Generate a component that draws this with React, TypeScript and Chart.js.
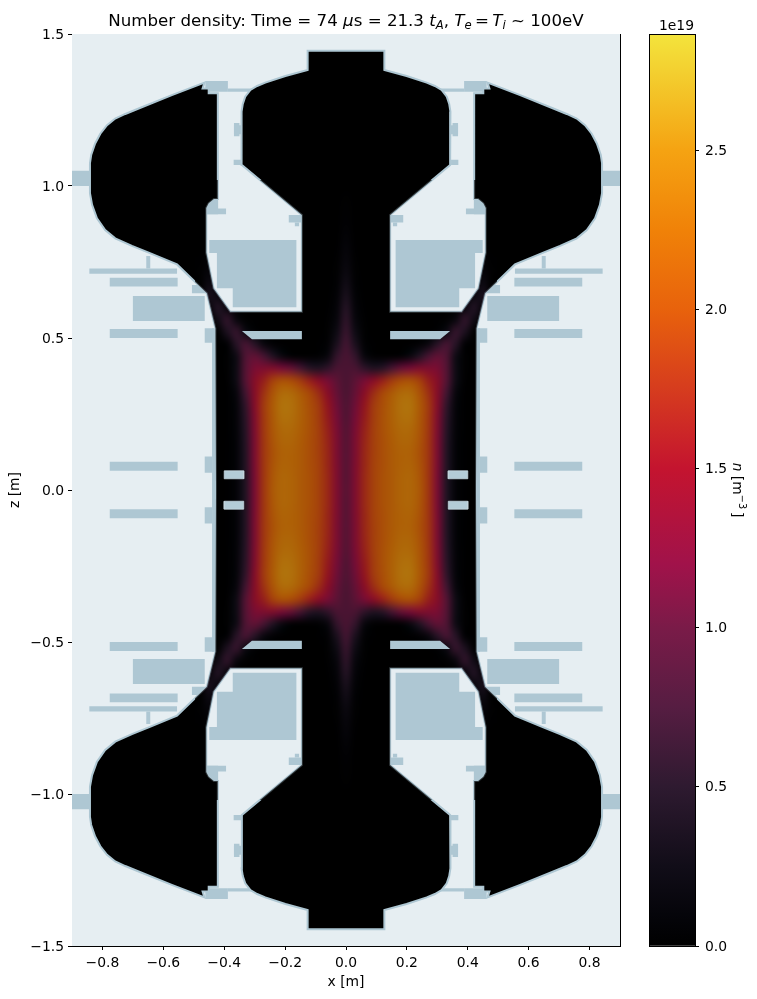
import React, { useEffect, useRef } from "react";
import { Chart, registerables } from "chart.js";

Chart.register(...registerables);

const FONT = '"DejaVu Sans"';
const xTicks = [-0.8, -0.6, -0.4, -0.2, 0, 0.2, 0.4, 0.6, 0.8];
const zTicks = [-1.5, -1.0, -0.5, 0, 0.5, 1.0, 1.5];
const cbTicks = [0, 0.5, 1.0, 1.5, 2.0, 2.5];
const cbScaleMax = 2.865;

// Colour scale: [value in 1e19 m^-3, colour]
const colourStops: [number, string][] = [
  [0, "#000000"], [0.1, "#05050a"], [0.25, "#110d18"], [0.5, "#2e1a30"], [0.75, "#561d42"],
  [1.0, "#7a1b48"], [1.2, "#a1124a"], [1.5, "#c4142f"], [1.75, "#d63c1e"], [2.0, "#e8620c"],
  [2.25, "#f08208"], [2.5, "#f5a312"], [2.75, "#f3d030"], [2.865, "#f3e43c"],
];

// Density quadrant, 1e19 m^-3: one row per z, one value per x
const densityX = [0, .03, .06, .09, .12, .15, .18, .21, .24, .27, .30, .33, .36, .39, .42, .45, .48];
const densityZ = [0, .04, .08, .12, .16, .20, .24, .28, .32, .36, .40, .44, .48, .52, .56, .60, .64, .68, .72, .76, .80, .84, .88, .92, .96, 1.0];
const densityRows = [
  [1.0, 1.3, 1.72, 1.95, 2.1, 2.2, 2.3, 2.33, 2.2, 1.85, 1.25, .50, .10, .01, 0, 0, 0],
  [.98, 1.3, 1.72, 1.95, 2.1, 2.2, 2.3, 2.33, 2.18, 1.85, 1.25, .50, .10, .01, 0, 0, 0],
  [.98, 1.3, 1.7, 1.95, 2.08, 2.2, 2.28, 2.3, 2.15, 1.85, 1.27, .52, .10, .01, 0, 0, 0],
  [.98, 1.28, 1.7, 1.93, 2.08, 2.2, 2.28, 2.28, 2.12, 1.85, 1.28, .52, .10, .01, 0, 0, 0],
  [.97, 1.28, 1.68, 1.93, 2.08, 2.22, 2.32, 2.32, 2.15, 1.85, 1.28, .53, .10, .01, 0, 0, 0],
  [.96, 1.25, 1.65, 1.92, 2.1, 2.25, 2.36, 2.36, 2.18, 1.86, 1.3, .55, .11, .01, 0, 0, 0],
  [.92, 1.2, 1.6, 1.9, 2.1, 2.27, 2.42, 2.43, 2.2, 1.87, 1.32, .58, .12, .01, 0, 0, 0],
  [.90, 1.15, 1.55, 1.88, 2.08, 2.27, 2.44, 2.46, 2.22, 1.88, 1.38, .64, .13, .01, 0, 0, 0],
  [.87, 1.08, 1.42, 1.75, 2.0, 2.2, 2.36, 2.38, 2.15, 1.8, 1.4, .78, .17, .01, 0, 0, 0],
  [.86, 1.02, 1.22, 1.42, 1.65, 1.88, 2.05, 2.1, 1.95, 1.65, 1.4, .95, .28, .02, 0, 0, 0],
  [.86, .85, .62, .48, .55, .82, 1.08, 1.2, 1.32, 1.3, 1.25, .95, .28, .03, 0, 0, 0],
  [.85, .65, .18, .04, .02, .02, .05, .20, .48, .82, 1.05, .90, .28, .03, 0, 0, 0],
  [.78, .42, .06, .01, 0, 0, 0, .01, .05, .20, .55, .82, .55, .05, 0, 0, 0],
  [.68, .28, .03, 0, 0, 0, 0, 0, 0, .01, .06, .25, .66, .45, .03, 0, 0],
  [.60, .18, .02, 0, 0, 0, 0, 0, 0, 0, .01, .03, .20, .62, .30, 0, 0],
  [.52, .12, .01, 0, 0, 0, 0, 0, 0, 0, 0, 0, .02, .18, .50, .12, 0],
  [.40, .08, 0, 0, 0, 0, 0, 0, 0, 0, 0, 0, 0, .03, .20, .38, 0],
  [.30, .05, 0, 0, 0, 0, 0, 0, 0, 0, 0, 0, 0, 0, .05, .25, 0],
  [.22, .03, 0, 0, 0, 0, 0, 0, 0, 0, 0, 0, 0, 0, .01, .12, .02],
  [.16, .02, 0, 0, 0, 0, 0, 0, 0, 0, 0, 0, 0, 0, 0, .06, .01],
  [.12, .01, 0, 0, 0, 0, 0, 0, 0, 0, 0, 0, 0, 0, 0, 0, 0],
  [.08, 0, 0, 0, 0, 0, 0, 0, 0, 0, 0, 0, 0, 0, 0, 0, 0],
  [.05, 0, 0, 0, 0, 0, 0, 0, 0, 0, 0, 0, 0, 0, 0, 0, 0],
  [.03, 0, 0, 0, 0, 0, 0, 0, 0, 0, 0, 0, 0, 0, 0, 0, 0],
  [.02, 0, 0, 0, 0, 0, 0, 0, 0, 0, 0, 0, 0, 0, 0, 0, 0],
  [0, 0, 0, 0, 0, 0, 0, 0, 0, 0, 0, 0, 0, 0, 0, 0, 0],
];

type P = [number, number];

// Plasma boundary, upper right quarter, (x, z) in metres
const vesselQuarter: P[] = [
  [0, 1.445], [.126, 1.445], [.126, 1.382], [.199, 1.362], [.265, 1.340], [.292, 1.329], [.314, 1.316],
  [.331, 1.294], [.339, 1.270], [.343, 1.245], [.342, 1.069], [.145, .905], [.145, .586], [.380, .586],
  [.435, .663], [.459, .781], [.459, .928], [.451, .943], [.434, .957], [.421, .957], [.421, 1.305],
  [.451, 1.305], [.451, 1.321], [.471, 1.321], [.465, 1.340], [.572, 1.299], [.681, 1.255], [.725, 1.237],
  [.758, 1.222], [.785, 1.2], [.807, 1.172], [.824, 1.14], [.837, 1.102], [.841, 1.075], [.841, .976],
  [.834, .938], [.818, .894], [.791, .855], [.758, .828], [.703, .803], [.648, .781], [.555, .742],
  [.457, .647], [.429, .532], [.427, 0],
];

// Structures behind the plasma, upper right quarter: rectangles [x0, x1, z0, z1]
const structureRects: number[][] = [
  [.309, .388, 1.310, 1.321], [.388, .462, 1.310, 1.345], [.350, .368, 1.164, 1.207], [.342, .368, 1.17, 1.20],
  [.345, .369, 1.069, 1.086], [.842, .9, 1.0, 1.05], [.394, .46, .907, .926], [.42, .46, .907, .957],
  [.145, .188, .88, .905], [.154, .168, .868, .88], [.643, .656, .729, .770], [.555, .843, .711, .729],
  [.553, .776, .669, .698], [.464, .70, .556, .638], [.553, .776, .5, .53], [.434, .464, .484, .532],
  [.427, .44, 0, .532], [.44, .464, .057, .11], [.553, .776, .063, .093],
];
const structurePolys: P[][] = [
  [[.163, .822], [.449, .822], [.449, .780], [.424, .780], [.424, .664], [.372, .664], [.372, .601], [.163, .601]],
  [[.506, .674], [.506, .647], [.457, .647], [.483, .674]],
];
// Structures in front of the plasma
const plateQuarter: P[] = [[.145, .523], [.342, .523], [.309, .496], [.145, .496]];
const limiterRect = [.336, .40, .037, .063];

const PANEL = "#e6eef2";
const STEEL = "#aec7d3";

const rectPoly = ([x0, x1, z0, z1]: number[]): P[] => [[x0, z0], [x1, z0], [x1, z1], [x0, z1]];
const mirrored = (poly: P[]): P[][] => [
  poly,
  poly.map(([x, z]) => [-x, z] as P),
  poly.map(([x, z]) => [x, -z] as P),
  poly.map(([x, z]) => [-x, -z] as P),
];
const toPoints = (poly: P[]) => [...poly, poly[0]].map(([x, y]) => ({ x, y }));

const polyDataset = (poly: P[], color: string, order: number, extra: object = {}) => ({
  data: toPoints(poly), showLine: true, fill: "shape", backgroundColor: color, borderColor: color,
  borderWidth: 0, pointRadius: 0, tension: 0, order, ...extra,
});

function buildVessel(): P[] {
  const right = [...vesselQuarter, ...vesselQuarter.slice(0, -1).reverse().map(([x, z]) => [x, -z] as P)];
  const left = right.slice(0, -1).reverse().map(([x, z]) => [-x, z] as P);
  return [...right, ...left];
}

const hexRgb = (h: string) => [1, 3, 5].map((i) => parseInt(h.slice(i, i + 2), 16));
function colourOf(v: number): number[] {
  for (let i = 1; i < colourStops.length; i++) {
    if (v <= colourStops[i][0]) {
      const [a, ca] = colourStops[i - 1];
      const [b, cb] = colourStops[i];
      const t = (v - a) / (b - a);
      const ra = hexRgb(ca), rb = hexRgb(cb);
      return ra.map((c, k) => c + (rb[k] - c) * t);
    }
  }
  return hexRgb(colourStops[colourStops.length - 1][1]);
}

const fmt = (v: number) => (v < 0 ? "\u2212" : "") + Math.abs(v).toFixed(1);

type Seg = { t: string; it?: boolean; sub?: boolean; sup?: boolean };
const titleSegs: Seg[] = [
  { t: "Number density: Time = 74 " }, { t: "\u03bc", it: true }, { t: "s = 21.3 " }, { t: "t", it: true },
  { t: "A", it: true, sub: true }, { t: ", " }, { t: "T", it: true }, { t: "e", it: true, sub: true },
  { t: "\u2009=\u2009" }, { t: "T", it: true }, { t: "i", it: true, sub: true }, { t: " ~ 100eV" },
];
const cbLabelSegs: Seg[] = [{ t: "n", it: true }, { t: " [m" }, { t: "\u22123", sup: true }, { t: "\u2009]" }];

function drawSegs(ctx: CanvasRenderingContext2D, segs: Seg[], size: number, cx: number, baseY: number) {
  const fontOf = (s: Seg) => `${s.it ? "italic " : ""}${s.sub || s.sup ? size * 0.7 : size}px ${FONT}`;
  let w = 0;
  segs.forEach((s) => { ctx.font = fontOf(s); w += ctx.measureText(s.t).width; });
  let x = cx - w / 2;
  ctx.fillStyle = "#000";
  ctx.textAlign = "left";
  ctx.textBaseline = "alphabetic";
  segs.forEach((s) => {
    ctx.font = fontOf(s);
    const dy = s.sub ? size * 0.16 : s.sup ? -size * 0.42 : 0;
    ctx.fillText(s.t, x, baseY + dy);
    x += ctx.measureText(s.t).width;
  });
}

const densityPlugin = {
  id: "densityImage",
  afterDatasetDraw(chart: any, args: any) {
    const ds = chart.data.datasets[args.index];
    if (ds.label !== "density") return;
    const { x: sx, y: sy } = chart.scales;
    const ctx = chart.ctx as CanvasRenderingContext2D;
    const nx = densityX.length, nz = densityZ.length;
    const off = document.createElement("canvas");
    off.width = nx * 2 - 1;
    off.height = nz * 2 - 1;
    const oc = off.getContext("2d")!;
    const img = oc.createImageData(off.width, off.height);
    ds.data.forEach((p: any) => {
      const col = nx - 1 + Math.round((p.x / densityX[nx - 1]) * (nx - 1));
      const row = nz - 1 - Math.round((p.y / densityZ[nz - 1]) * (nz - 1));
      const c = colourOf(p.v);
      const i = (row * off.width + col) * 4;
      img.data[i] = c[0]; img.data[i + 1] = c[1]; img.data[i + 2] = c[2]; img.data[i + 3] = 255;
    });
    oc.putImageData(img, 0, 0);
    const dx = densityX[1] / 2, dz = densityZ[1] / 2;
    const L = sx.getPixelForValue(-densityX[nx - 1] - dx), R = sx.getPixelForValue(densityX[nx - 1] + dx);
    const T = sy.getPixelForValue(densityZ[nz - 1] + dz), B = sy.getPixelForValue(-densityZ[nz - 1] - dz);
    ctx.save();
    ctx.beginPath();
    buildVessel().forEach(([x, z], i) => {
      const a = sx.getPixelForValue(x), b = sy.getPixelForValue(z);
      i ? ctx.lineTo(a, b) : ctx.moveTo(a, b);
    });
    ctx.closePath();
    ctx.clip();
    ctx.imageSmoothingEnabled = true;
    ctx.imageSmoothingQuality = "high";
    ctx.globalAlpha = 0.72;
    ctx.drawImage(off, L, T, R - L, B - T);
    ctx.restore();
  },
  afterDraw(chart: any) {
    const ctx = chart.ctx as CanvasRenderingContext2D;
    const a = chart.chartArea;
    ctx.save();
    ctx.strokeStyle = "#000";
    ctx.lineWidth = 1;
    ctx.beginPath();
    ctx.moveTo(Math.round(a.right) + 0.5, a.top);
    ctx.lineTo(Math.round(a.right) + 0.5, a.bottom);
    ctx.stroke();
    drawSegs(ctx, titleSegs, 16.67, (a.left + a.right) / 2, 26);
    ctx.restore();
  },
};

const colourbarPlugin = {
  id: "colourbarFrame",
  afterDraw(chart: any) {
    const ctx = chart.ctx as CanvasRenderingContext2D;
    const a = chart.chartArea;
    ctx.save();
    ctx.strokeStyle = "#000";
    ctx.lineWidth = 1;
    ctx.strokeRect(a.left + 0.5, a.top + 0.5, a.right - a.left, a.bottom - a.top);
    ctx.font = `13.9px ${FONT}`;
    ctx.fillStyle = "#000";
    ctx.textAlign = "right";
    ctx.textBaseline = "alphabetic";
    ctx.fillText("1e19", a.right - 1, 30);
    ctx.translate(733, (a.top + a.bottom) / 2);
    ctx.rotate(Math.PI / 2);
    drawSegs(ctx, cbLabelSegs, 13.9, 0, 0);
    ctx.restore();
  },
};

const axisBase = {
  grid: { drawOnChartArea: false, tickLength: 4, tickColor: "#000", tickWidth: 1 },
};
const tickFont = { family: FONT, size: 13.9 };

export default function App() {
  const mainRef = useRef<HTMLCanvasElement>(null);
  const barRef = useRef<HTMLCanvasElement>(null);

  useEffect(() => {
    const datasets: any[] = [];
    datasets.push(polyDataset(rectPoly([-0.9, 0.9, -1.5, 1.5]), PANEL, 5));
    structureRects.forEach((r) => mirrored(rectPoly(r)).forEach((p) => datasets.push(polyDataset(p, STEEL, 4))));
    structurePolys.forEach((s) => mirrored(s).forEach((p) => datasets.push(polyDataset(p, STEEL, 4))));
    datasets.push(polyDataset(buildVessel(), "#000000", 3, { borderColor: STEEL, borderWidth: 2, label: "vessel" }));
    const cells: { x: number; y: number; v: number }[] = [];
    densityZ.forEach((z, r) => densityX.forEach((x, c) => {
      const v = densityRows[r][c];
      [x, -x].forEach((xx) => [z, -z].forEach((zz) => cells.push({ x: xx, y: zz, v })));
    }));
    datasets.push({ label: "density", data: cells, pointRadius: 0, showLine: false, order: 2 });
    mirrored(plateQuarter).forEach((p) => datasets.push(polyDataset(p, STEEL, 1)));
    mirrored(rectPoly(limiterRect)).forEach((p) =>
      datasets.push(polyDataset(p, "#b3ccd7", 1, { borderColor: "#c5d7df", borderWidth: 0.8 })));

    const main = new Chart(mainRef.current!, {
      type: "scatter",
      data: { datasets },
      plugins: [densityPlugin],
      options: {
        responsive: false, animation: false, events: [],
        layout: { padding: { top: 34, right: 137, left: 0, bottom: 0 } },
        plugins: { legend: { display: false }, tooltip: { enabled: false } },
        scales: {
          x: {
            type: "linear", min: -0.9, max: 0.9, ...axisBase,
            border: { display: true, color: "#000", width: 1 },
            afterBuildTicks: (s: any) => { s.ticks = xTicks.map((value) => ({ value })); },
            afterFit: (s: any) => { s.height = 53; },
            ticks: { color: "#000", font: tickFont, padding: 5, maxRotation: 0, autoSkip: false, callback: (v: any) => fmt(+v) },
            title: { display: true, text: "x [m]", color: "#000", font: tickFont, padding: { top: 0, bottom: 8 } },
          },
          y: {
            type: "linear", min: -1.5, max: 1.5, ...axisBase,
            border: { display: false },
            afterBuildTicks: (s: any) => { s.ticks = zTicks.map((value) => ({ value })); },
            afterFit: (s: any) => { s.width = 72; },
            ticks: { color: "#000", font: tickFont, padding: 4, labelOffset: 1, autoSkip: false, callback: (v: any) => fmt(+v) },
            title: { display: true, text: "z [m]", color: "#000", font: tickFont, padding: { top: 7, bottom: 0 } },
          },
        },
      },
    } as any);

    const bar = new Chart(barRef.current!, {
      type: "bar",
      data: {
        labels: ["n"],
        datasets: [{
          data: [[0, cbScaleMax]], barPercentage: 1, categoryPercentage: 1,
          backgroundColor: (c: any) => {
            const a = c.chart.chartArea;
            if (!a) return "#000";
            const sy = c.chart.scales.y;
            const g = c.chart.ctx.createLinearGradient(0, a.bottom, 0, a.top);
            colourStops.forEach(([v, col]) => g.addColorStop(Math.min(1, (a.bottom - sy.getPixelForValue(v)) / (a.bottom - a.top)), col));
            return g;
          },
        }],
      },
      plugins: [colourbarPlugin],
      options: {
        responsive: false, animation: false, events: [],
        layout: { padding: { top: 34, left: 649, right: 0, bottom: 53 } },
        plugins: { legend: { display: false }, tooltip: { enabled: false } },
        scales: {
          x: { display: false },
          y: {
            type: "linear", position: "right", min: 0, max: cbScaleMax, ...axisBase,
            border: { display: false },
            afterBuildTicks: (s: any) => { s.ticks = cbTicks.map((value) => ({ value })); },
            afterFit: (s: any) => { s.width = 62; },
            ticks: { color: "#000", font: tickFont, padding: 6, labelOffset: 1, autoSkip: false, callback: (v: any) => fmt(+v) },
          },
        },
      },
    } as any);

    return () => { main.destroy(); bar.destroy(); };
  }, []);

  const canvasStyle: React.CSSProperties = { position: "absolute", left: 0, top: 0, display: "block" };
  return (
    <div style={{ position: "absolute", left: 0, top: 0, width: 757, height: 999, background: "#fff" }}>
      <canvas ref={mainRef} width={757} height={999} style={canvasStyle} />
      <canvas ref={barRef} width={757} height={999} style={canvasStyle} />
    </div>
  );
}
